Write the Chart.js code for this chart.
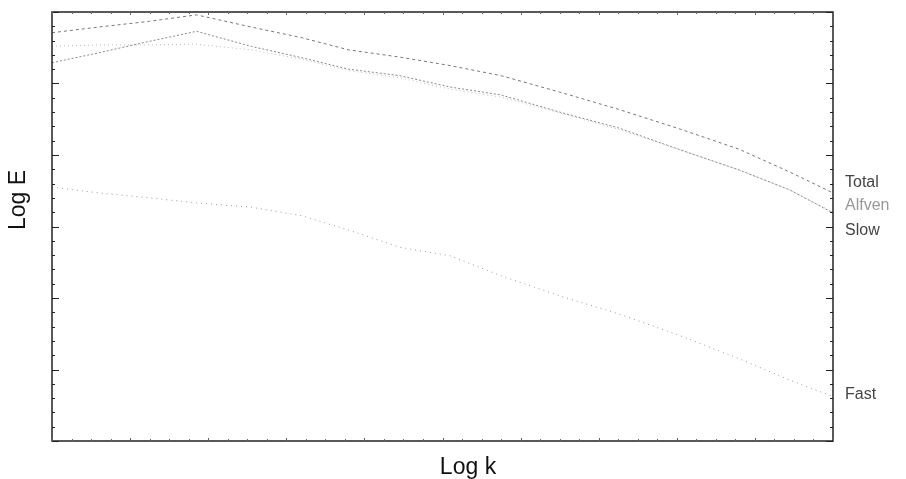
<!DOCTYPE html>
<html lang="en">
<head>
    <meta charset="UTF-8">
    <title>Log E vs Log k</title>
    <script src="https://cdn.jsdelivr.net/npm/chart.js"></script>
    <style>
        body {
            margin: 0;
            padding: 0;
            background: #fff;
        }
        #chart {
            display: block;
        }
    </style>
</head>
<body>
    <canvas id="chart" width="906" height="479"></canvas>

    <script>
        // Log k positions shared by every curve
        const logK = [0.0, 0.6, 1.25, 1.85, 2.55, 3.2, 3.8, 4.45, 5.1, 5.75, 6.5, 7.25, 8.05, 8.8, 9.45, 10.0];

        // Log E for each component
        const totalE  = [5.71, 5.79, 5.87, 5.96, 5.79, 5.64, 5.47, 5.37, 5.25, 5.11, 4.88, 4.64, 4.36, 4.08, 3.76, 3.47];
        const alfvenE = [5.52, 5.54, 5.54, 5.55, 5.47, 5.34, 5.18, 5.08, 4.92, 4.81, 4.59, 4.36, 4.07, 3.79, 3.51, 3.20];
        const slowE   = [5.29, 5.43, 5.59, 5.73, 5.52, 5.36, 5.20, 5.11, 4.95, 4.84, 4.60, 4.38, 4.07, 3.79, 3.51, 3.19];
        const fastE   = [3.55, 3.47, 3.40, 3.33, 3.27, 3.15, 2.95, 2.71, 2.59, 2.31, 2.03, 1.78, 1.47, 1.15, 0.85, 0.62];

        // curve names and where their names sit on the right (Log E units)
        const seriesNames = ["Total", "Alfven", "Slow", "Fast"];
        const nameLevels = [3.61, 3.29, 2.94, 0.65];

        const colors = ["#777", "#bbb", "#888", "#999"];
        const dashes = [[3, 3], [1, 3], [2, 2], [1, 4]];
        const values = [totalE, alfvenE, slowE, fastE];

        const datasets = values.map((arr, i) => ({
            label: seriesNames[i],
            data: arr.map((y, j) => ({ x: logK[j], y: y })),
            borderColor: colors[i],
            borderWidth: 1,
            borderDash: dashes[i],
            pointRadius: 0,
            tension: 0,
            fill: false
        }));

        // frame with inward ticks, names at the right and axis titles
        const framePlugin = {
            id: 'frame',
            afterDatasetsDraw(chart) {
                const ctx = chart.ctx;
                const a = chart.chartArea;
                const xs = chart.scales.x;
                const ys = chart.scales.y;
                ctx.save();
                ctx.strokeStyle = '#222';
                ctx.lineWidth = 1.5;
                ctx.strokeRect(a.left, a.top, a.right - a.left, a.bottom - a.top);

                ctx.lineWidth = 1;
                ctx.beginPath();
                for (let i = 0; i <= 30; i++) {
                    const v = i * 0.2;
                    const py = Math.round(ys.getPixelForValue(v)) + 0.5;
                    const len = (i % 5 === 0) ? 7 : 3;
                    ctx.moveTo(a.left, py); ctx.lineTo(a.left + len, py);
                    ctx.moveTo(a.right, py); ctx.lineTo(a.right - len, py);
                }
                ctx.stroke();
                ctx.strokeStyle = '#666';
                ctx.beginPath();
                for (let i = 0; i <= 40; i++) {
                    const v = i * 0.25;
                    const px = Math.round(xs.getPixelForValue(v)) + 0.5;
                    const len = (i % 4 === 0) ? 3 : 2;
                    ctx.moveTo(px, a.bottom); ctx.lineTo(px, a.bottom - len);
                    ctx.moveTo(px, a.top); ctx.lineTo(px, a.top + len);
                }
                ctx.stroke();

                ctx.font = '16px "Liberation Sans", Arial, sans-serif';
                ctx.textAlign = 'left';
                ctx.textBaseline = 'middle';
                seriesNames.forEach((name, i) => {
                    ctx.fillStyle = i === 1 ? '#999' : '#444';
                    ctx.fillText(name, a.right + 12, ys.getPixelForValue(nameLevels[i]));
                });

                ctx.fillStyle = '#111';
                ctx.font = '23px "Liberation Sans", Arial, sans-serif';
                ctx.textAlign = 'center';
                ctx.fillText('Log k', a.left + 416, a.bottom + 27);
                ctx.translate(a.left - 33, a.top + 188);
                ctx.rotate(-Math.PI / 2);
                ctx.fillText('Log E', 0, 0);
                ctx.restore();
            }
        };

        new Chart(document.getElementById('chart'), {
            type: 'line',
            data: { datasets: datasets },
            options: {
                responsive: false,
                animation: false,
                layout: { padding: { left: 52, right: 73, top: 12, bottom: 38 } },
                plugins: {
                    legend: { display: false },
                    tooltip: { enabled: false }
                },
                scales: {
                    x: { type: 'linear', min: 0, max: 10, display: false },
                    y: { type: 'linear', min: 0, max: 6, display: false }
                }
            },
            plugins: [framePlugin]
        });
    </script>
</body>
</html>
